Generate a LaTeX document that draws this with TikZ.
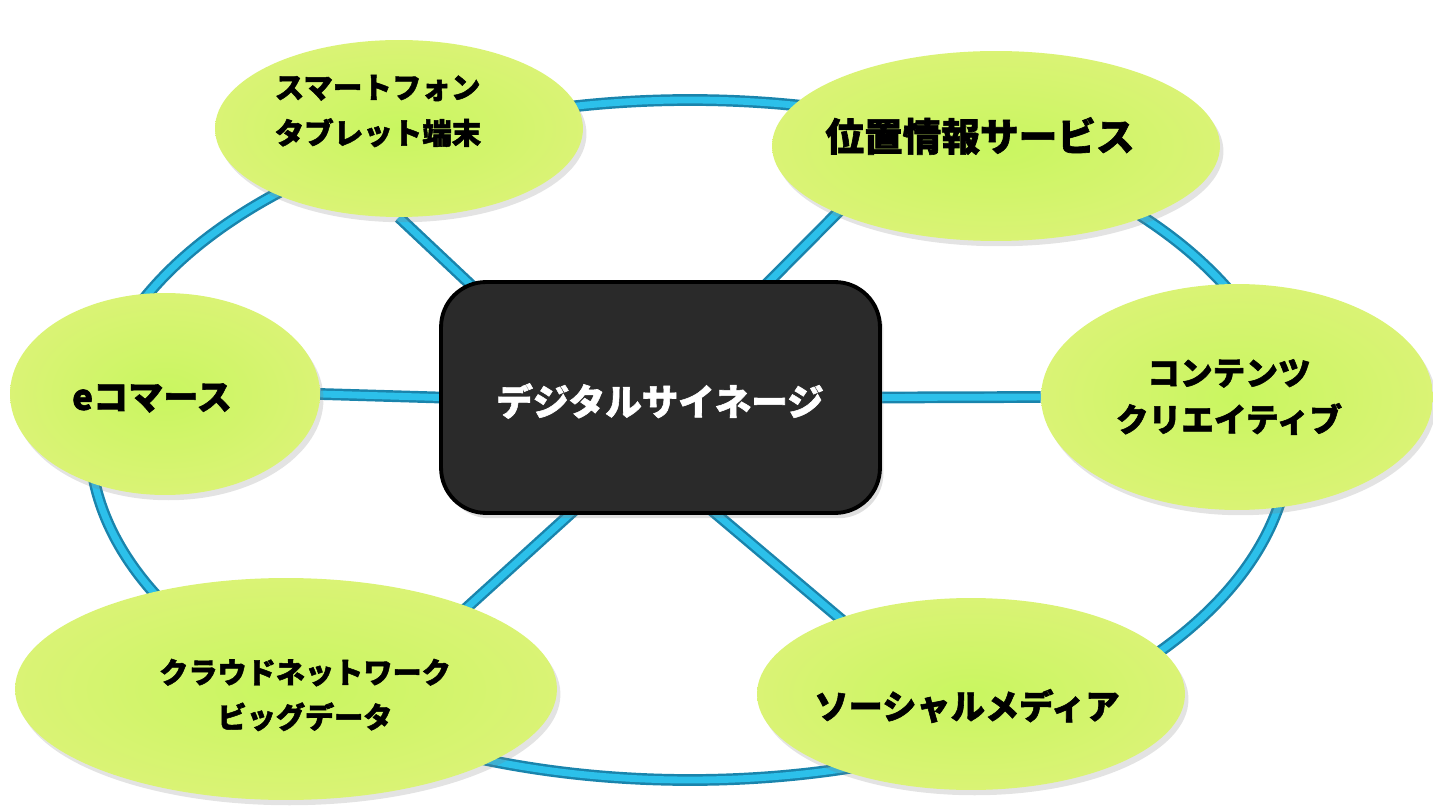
\documentclass[tikz,border=0pt]{standalone}
\usepackage{fontspec}
\setmainfont{Noto Sans CJK JP}[BoldFeatures={FakeBold=1.6}]
\usetikzlibrary{shapes.geometric,shadows,backgrounds}
\definecolor{tubeblue}{HTML}{2CC0EA}
\definecolor{tubedark}{HTML}{1A84AC}
\definecolor{limein}{HTML}{C9F660}
\definecolor{limeout}{HTML}{DAF375}
\definecolor{hubgray}{HTML}{2A2A2A}
\tikzset{
  tube/.style={draw=tubedark, line width=1.4pt, double=tubeblue, double distance=3.9pt},
  bubble/.style={ellipse, inner sep=0pt, shade, inner color=limein, outer color=limeout,
    drop shadow={opacity=0.22, shadow xshift=2pt, shadow yshift=-3pt}},
  hubbox/.style={rectangle, rounded corners=0.9cm, fill=hubgray, draw=black, line width=2.2pt,
    minimum width=8.78cm, minimum height=4.62cm,
    drop shadow={opacity=0.25, shadow xshift=2pt, shadow yshift=-3pt}},
  lbl/.style={inner sep=0pt, text=black}
}

\begin{document}
\begin{tikzpicture}[x=0.02cm, y=-0.02cm]
			%%%%% START %%%%%
			\useasboundingbox (0,0) rectangle (1433,810);
			
			\node[hubbox] (hub) at (660.5,397.5) {};
			\node[lbl, text=white, font=\fontsize{20.8}{26}\selectfont\bfseries] (hub-t) at (660,401) {デジタルサイネージ};
			
			\node[bubble, minimum width=7.36cm, minimum height=3.54cm] (phone) at (399,128.5) {};
			\node[lbl, align=left, font=\fontsize{16.8}{26}\selectfont\bfseries] (phone-t) at (378,111) {スマートフォン\\タブレット端末};
			
			\node[bubble, minimum width=8.96cm, minimum height=3.8cm] (geo) at (996,146) {};
			\node[lbl, font=\fontsize{22}{26}\selectfont\bfseries] (geo-t) at (980,136) {位置情報サービス};
			
			\node[bubble, minimum width=6.2cm, minimum height=4.04cm] (ecom) at (165,394) {};
			\node[lbl, font=\fontsize{20}{26}\selectfont\bfseries] (ecom-t) at (152,398) {eコマース};
			
			\node[bubble, minimum width=7.84cm, minimum height=4.52cm] (content) at (1237,397) {};
			\node[lbl, align=center, font=\fontsize{18.6}{26.5}\selectfont\bfseries] (content-t) at (1229,397) {コンテンツ\\クリエイティブ};
			
			\node[bubble, minimum width=10.84cm, minimum height=4.44cm] (cloud) at (286,689) {};
			\node[lbl, align=center, font=\fontsize{16.6}{25.5}\selectfont\bfseries] (cloud-t) at (305,695) {クラウドネットワーク\\ビッグデータ};
			
			\node[bubble, minimum width=8.56cm, minimum height=3.84cm] (social) at (971,694) {};
			\node[lbl, font=\fontsize{19.5}{26}\selectfont\bfseries] (social-t) at (967,706) {ソーシャルメディア};
			
			\begin{pgfonlayer}{background}
				\draw[tube] (690,440) ellipse [x radius=600, y radius=340];
				\draw[tube] (phone.south) -- ([shift={(-120,-47)}]hub.center);
				\draw[tube] ([shift={(-126,34)}]geo.center) -- ([shift={(80,-87)}]hub.center);
				\draw[tube] (ecom.east) -- (hub.west);
				\draw[tube] (hub.east) -- (content.west);
				\draw[tube] ([shift={(164,-66)}]cloud.center) -- ([shift={(-70,98)}]hub.center);
				\draw[tube] ([shift={(-121,-67)}]social.center) -- ([shift={(35,99)}]hub.center);
			\end{pgfonlayer}
			%%%%% END %%%%%
\end{tikzpicture}
\end{document}
